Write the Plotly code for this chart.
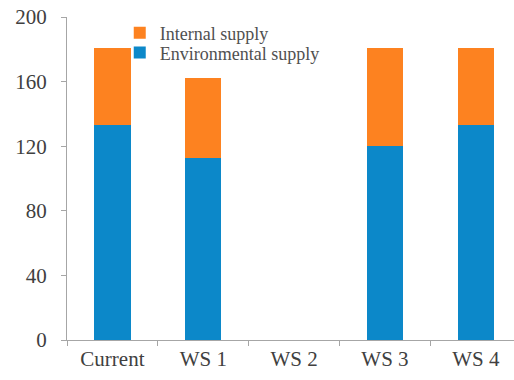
import plotly.graph_objects as go

# Water supply scenarios (stacked: environmental + internal)
categories = ["Current", "WS 1", "WS 2", "WS 3", "WS 4"]
environmental_supply = [133, 113, 0, 120, 133]
internal_supply = [48, 49, 0, 61, 48]
y_ticks = [0, 40, 80, 120, 160, 200]

BLUE = "#0C88C9"
ORANGE = "#FD8220"
FONT = "Liberation Serif, Times New Roman, serif"

fig = go.Figure()
fig.add_trace(go.Bar(
    x=categories, y=environmental_supply, name="Environmental supply",
    marker=dict(color=BLUE, line=dict(width=0)), width=0.4,
    legend="legend2",
))
fig.add_trace(go.Bar(
    x=categories, y=internal_supply, name="Internal supply",
    marker=dict(color=ORANGE, line=dict(width=0)), width=0.4,
    legend="legend",
))

legend_style = dict(
    xanchor="left", yanchor="middle",
    font=dict(family=FONT, size=18, color="#505050"),
    bgcolor="rgba(0,0,0,0)", itemwidth=30,
)

fig.update_layout(
    width=514, height=380,
    barmode="stack",
    paper_bgcolor="white", plot_bgcolor="white",
    margin=dict(l=67, r=0, t=17, b=40),
    font=dict(family=FONT, size=21, color="#404040"),
    showlegend=True,
    legend=dict(x=0.118, y=0.950, **legend_style),
    legend2=dict(x=0.118, y=0.889, **legend_style),
)
fig.update_xaxes(
    type="category", range=[-0.5, 4.42],
    showline=True, linecolor="#A6A6A6", linewidth=1,
    ticks="outside", tickson="boundaries", ticklen=5, tickcolor="#A6A6A6",
    showgrid=False, zeroline=False,
)
fig.update_yaxes(
    range=[0, 200], tickvals=y_ticks,
    showline=True, linecolor="#A6A6A6", linewidth=1,
    ticks="outside", ticklen=5, tickcolor="#A6A6A6",
    ticklabelstandoff=10,
    showgrid=False, zeroline=False,
)

fig.write_html("out.html")
